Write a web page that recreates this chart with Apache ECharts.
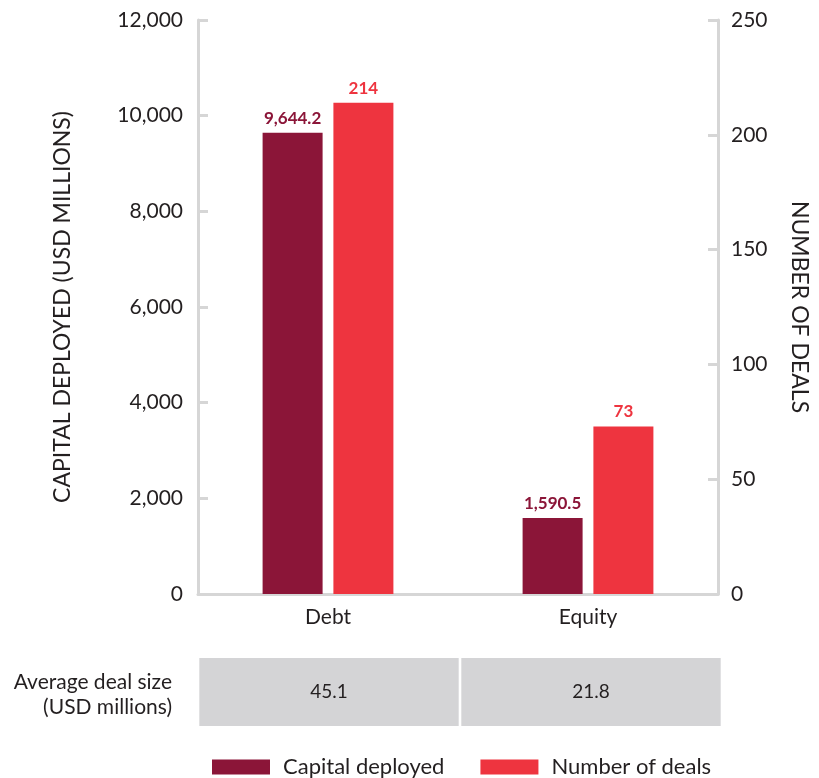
<!DOCTYPE html>
<html>
<head>
<meta charset="utf-8">
<script src="https://cdn.jsdelivr.net/npm/echarts@6/dist/echarts.min.js"></script>
<style>html,body{margin:0;padding:0;background:#fff}#c{width:819px;height:778px}</style>
</head>
<body>
<div id="c"></div>
<script>
const categories = ['Debt', 'Equity'];
const capitalDeployed = [9644.2, 1590.5];
const numberOfDeals = [214, 73];
const avgDealSize = ['45.1', '21.8'];
const leftTicks = { min: 0, max: 12000, interval: 2000 };
const rightTicks = { min: 0, max: 250, interval: 50 };

const DARK = '#8B1538', RED = '#EE343F', AXIS = '#d6d6d6', TXT = '#231f20';
const FONT = 'Lato, "Open Sans", sans-serif';

const chart = echarts.init(document.getElementById('c'));
const fmt = v => v.toLocaleString('en-US', { minimumFractionDigits: 1, maximumFractionDigits: 1 });

chart.setOption({
  animation: false,
  textStyle: { fontFamily: FONT },
  grid: [
    { left: 198, right: 97, top: 20, height: 574 },
    { left: 198, right: 97, top: 658, height: 68 }
  ],
  legend: {
    top: 751, left: 207, itemWidth: 58, itemHeight: 15, itemGap: 36,
    icon: 'rect',
    textStyle: { fontSize: 22, color: TXT, fontFamily: FONT, padding: [0, 0, 0, 8] },
    data: ['Capital deployed', 'Number of deals']
  },
  xAxis: [
    {
      type: 'category', data: categories, gridIndex: 0,
      axisLine: { lineStyle: { color: AXIS, width: 3 } },
      axisTick: { inside: true, length: 8, lineStyle: { color: AXIS, width: 3 } },
      axisLabel: { fontSize: 21, color: TXT, margin: 13, fontFamily: FONT }
    },
    { type: 'category', data: categories, gridIndex: 1, show: false }
  ],
  yAxis: [
    {
      type: 'value', gridIndex: 0, position: 'left', ...leftTicks,
      name: 'CAPITAL DEPLOYED (USD MILLIONS)', nameLocation: 'middle', nameGap: 124,
      nameTextStyle: { fontSize: 23, color: TXT, fontFamily: FONT },
      axisLine: { show: true, lineStyle: { color: AXIS, width: 3 } },
      axisTick: { show: true, inside: true, length: 10, lineStyle: { color: AXIS, width: 3 } },
      axisLabel: { fontSize: 21, color: TXT, margin: 15, fontFamily: FONT,
        formatter: v => v.toLocaleString('en-US') },
      splitLine: { show: false }
    },
    {
      type: 'value', gridIndex: 0, position: 'right', ...rightTicks,
      name: 'NUMBER OF DEALS', nameLocation: 'middle', nameGap: 70, nameRotate: -90,
      nameTextStyle: { fontSize: 23, color: TXT, fontFamily: FONT },
      axisLine: { show: true, lineStyle: { color: AXIS, width: 3 } },
      axisTick: { show: true, inside: true, length: 10, lineStyle: { color: AXIS, width: 3 } },
      axisLabel: { fontSize: 21, color: TXT, margin: 13, fontFamily: FONT },
      splitLine: { show: false }
    },
    { type: 'value', gridIndex: 1, min: 0, max: 1, show: false }
  ],
  series: [
    {
      name: 'Capital deployed', type: 'bar', xAxisIndex: 0, yAxisIndex: 0,
      data: capitalDeployed, barWidth: 60, barGap: '18%',
      itemStyle: { color: DARK },
      label: { show: true, position: 'top', distance: 6, color: DARK, fontWeight: 'bold',
        fontSize: 17, fontFamily: FONT, formatter: p => fmt(p.value) }
    },
    {
      name: 'Number of deals', type: 'bar', xAxisIndex: 0, yAxisIndex: 1,
      data: numberOfDeals, barWidth: 60,
      itemStyle: { color: RED },
      label: { show: true, position: 'top', distance: 6, color: RED, fontWeight: 'bold',
        fontSize: 17, fontFamily: FONT }
    },
    {
      name: 'avg', type: 'bar', xAxisIndex: 1, yAxisIndex: 2,
      data: avgDealSize.map(() => 1), barCategoryGap: '1%',
      itemStyle: { color: '#d4d4d6' }, silent: true,
      label: { show: true, position: 'inside', color: TXT, fontSize: 19, fontFamily: FONT,
        formatter: p => avgDealSize[p.dataIndex] }
    }
  ],
  graphic: [
    {
      type: 'text', x: 172, y: 670,
      style: { text: 'Average deal size\n(USD millions)', fontSize: 21, lineHeight: 25,
        fill: TXT, align: 'right', verticalAlign: 'top', fontFamily: FONT }
    }
  ]
});
</script>
</body>
</html>
